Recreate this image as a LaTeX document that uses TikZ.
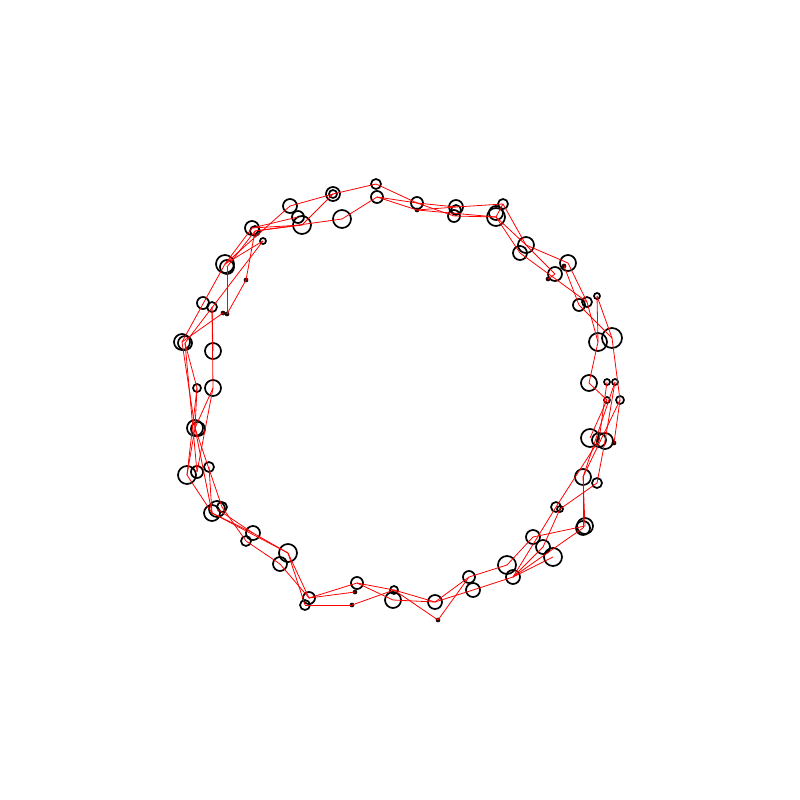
\documentclass[tikz,border=0pt]{standalone}
\begin{document}
\begin{tikzpicture}[x=1pt,y=-1pt,
  ring/.style={circle,draw=black,line width=1.7pt,inner sep=0pt,fill=none},
  dot/.style={circle,fill=black!80!red,draw=black,line width=0.6pt,inner sep=0pt,minimum size=4pt},
  edge/.style={draw=red,line width=0.8pt}]
\useasboundingbox (0,0) rectangle (800,800);
\foreach \n/\x/\y/\r in {
 1/376/184/5, 2/377/197/6, 3/417/203/6, 5/456/207/7, 6/454/216/6,
 7/503/204/5, 8/496/217/9, 81/496/213/7, 9/526/245/8, 10/520/253/7, 11/568/263/8,
 13/555/274/7, 15/597/296/3, 16/587/302/5, 17/579/305/6, 18/612/338/10,
 19/598/342/9, 20/589/383/8, 21/607/382/3, 22/615/382/3, 23/607/400/3,
 24/620/400/4, 26/590/438/9, 27/599/440/7, 28/605/441/8, 30/583/477/8,
 31/597/483/5, 32/556/507/5, 33/560/509/3, 34/585/526/8, 35/583/528/7,
 36/533/537/7, 37/543/547/7, 38/553/557/9, 39/507/565/9, 40/513/577/7,
 41/469/577/6, 42/473/590/7, 43/435/602/7, 45/394/590/4, 46/393/600/8,
 47/357/583/6, 49/309/598/6, 50/305/605/5, 51/288/553/9, 52/280/564/7,
 53/253/533/7, 54/246/541/5, 55/212/513/8, 56/217/509/8, 57/222/507/5,
 58/187/475/9, 59/197/472/6, 60/209/467/5, 61/195/428/8, 82/198/429/7, 62/213/388/8,
 63/197/388/4, 64/213/351/8, 65/182/342/8, 66/185/343/7, 68/203/303/6,
 69/212/307/5, 70/225/264/9, 71/227/267/7, 73/252/228/7, 74/255/231/5,
 75/263/241/3, 76/290/206/7, 77/298/217/6, 78/302/225/9, 79/342/219/9,
 80/333/194/7, 83/333/194/4, 84/456/210/5}
  \node[ring,minimum size={2*\r pt}] (n\n) at (\x,\y) {};
\foreach \n/\x/\y in {4/417/210, 12/564/266, 14/548/279, 29/614/443,
  44/438/620, 48/352/605, 67/223/313, 72/246/280, 85/227/314, 86/355/592}
  \node[dot] (n\n) at (\x,\y) {};
\foreach \a/\b in {
 80/1, 80/76, 80/78, 79/2, 79/74, 78/74, 73/78, 73/77, 76/70,
 1/3, 2/3, 2/4, 3/5, 3/6, 4/5, 4/8, 5/7, 6/8, 7/8, 7/9, 8/10, 8/9,
 9/11, 10/16, 12/17, 11/16, 9/13, 13/14, 15/19, 17/18, 16/19, 19/20, 18/24, 20/23,
 15/18, 21/27, 22/28, 23/26, 24/29, 24/30, 22/30, 28/31, 27/32, 30/34, 30/35, 31/33,
 32/40, 35/40, 36/39, 34/36, 38/40, 37/40, 33/37,
 39/41, 40/42, 41/43, 42/43, 44/41, 44/45, 43/46, 43/45,
 45/47, 48/45, 48/50, 47/49, 47/46, 86/49,
 49/51, 50/51, 49/52, 51/53, 52/54, 51/55, 53/56, 53/55, 54/57,
 55/58, 55/61, 60/55, 57/61, 58/61, 61/63, 61/62, 59/62, 58/63,
 65/61, 66/59, 62/69, 63/66,
 65/70, 66/75, 65/67, 85/72, 71/85, 74/72, 70/73, 71/74, 70/75, 69/64}
  \draw[edge] (n\a.center) -- (n\b.center);
\end{tikzpicture}
\end{document}
